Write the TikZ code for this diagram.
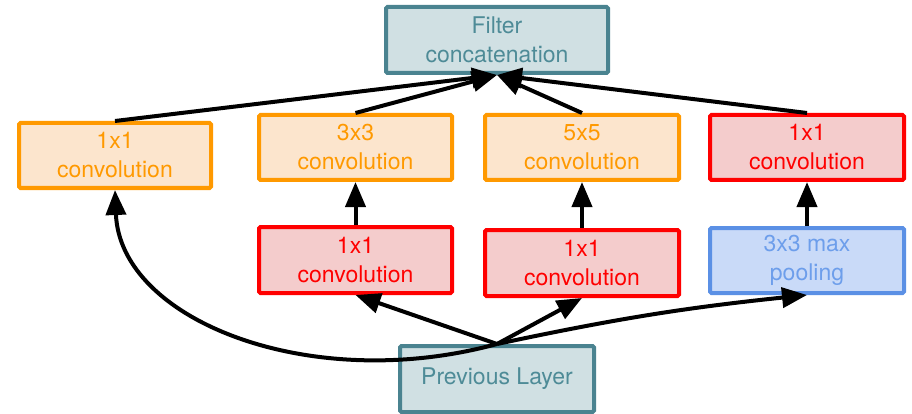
\documentclass[tikz,border=0pt]{standalone}
\usepackage{fontspec}
\setmainfont{TeX Gyre Heros}
\usetikzlibrary{arrows.meta}
\definecolor{tealB}{HTML}{4A8390}
\definecolor{tealF}{HTML}{D0E0E3}
\definecolor{tealT}{HTML}{4E8B97}
\definecolor{orgB}{HTML}{FF9900}
\definecolor{orgF}{HTML}{FCE5CD}
\definecolor{redB}{HTML}{FF0000}
\definecolor{redF}{HTML}{F4CCCC}
\definecolor{bluB}{HTML}{5B90E5}
\definecolor{bluF}{HTML}{C9DAF8}
\definecolor{bluT}{HTML}{6D9EEB}
\tikzset{
  box/.style={draw, line width=4pt, rounded corners=1.5pt, align=center,
    font=\fontsize{23}{29}\selectfont, inner sep=0pt, minimum height=65pt},
  tealbox/.style={box, draw=tealB, fill=tealF, text=tealT},
  orgbox/.style={box, draw=orgB, fill=orgF, text=orgB},
  redbox/.style={box, draw=redB, fill=redF, text=redB},
  blubox/.style={box, draw=bluB, fill=bluF, text=bluT},
  arr/.style={draw=black, line width=4pt, -{Triangle[length=25pt,width=20pt]}}
}
\begin{document}
\begin{tikzpicture}[x=1pt,y=-1pt]
\useasboundingbox (0,0) rectangle (912,414);
\node[tealbox, minimum width=222pt, minimum height=66pt] (concat) at (497,40) {Filter\\concatenation};
\node[orgbox, minimum width=192pt] (left1) at (115,155.5) {1x1\\convolution};
\node[orgbox, minimum width=193pt] (c3) at (355.5,147.5) {3x3\\convolution};
\node[orgbox, minimum width=194pt] (c5) at (582,147.5) {5x5\\convolution};
\node[redbox, minimum width=194pt] (r1) at (807,147.5) {1x1\\convolution};
\node[redbox, minimum width=193pt, minimum height=66pt] (red3) at (355.5,260) {1x1\\convolution};
\node[redbox, minimum width=194pt, minimum height=66pt] (red5) at (582,263) {1x1\\convolution};
\node[blubox, minimum width=194pt] (pool) at (807,260.5) {3x3 max\\pooling};
\node[tealbox, minimum width=194pt, minimum height=66pt] (prev) at (497,379) {Previous Layer};
% upward to concatenation
\draw[arr] (left1.north) -- (concat.south);
\draw[arr] (c3.north) -- (concat.south);
\draw[arr] (c5.north) -- (concat.south);
\draw[arr] (r1.north) -- (concat.south);
% vertical
\draw[arr] (red3.north) -- (c3.south);
\draw[arr] (red5.north) -- (c5.south);
\draw[arr] (pool.north) -- (r1.south);
% from previous layer
\draw[arr] (prev.north) .. controls (310,395) and (120,320) .. (left1.south);
\draw[arr] (prev.north) -- (red3.south);
\draw[arr] (prev.north) -- (red5.south);
\draw[arr] (prev.north) to[bend left=3] (pool.south);
\end{tikzpicture}
\end{document}
